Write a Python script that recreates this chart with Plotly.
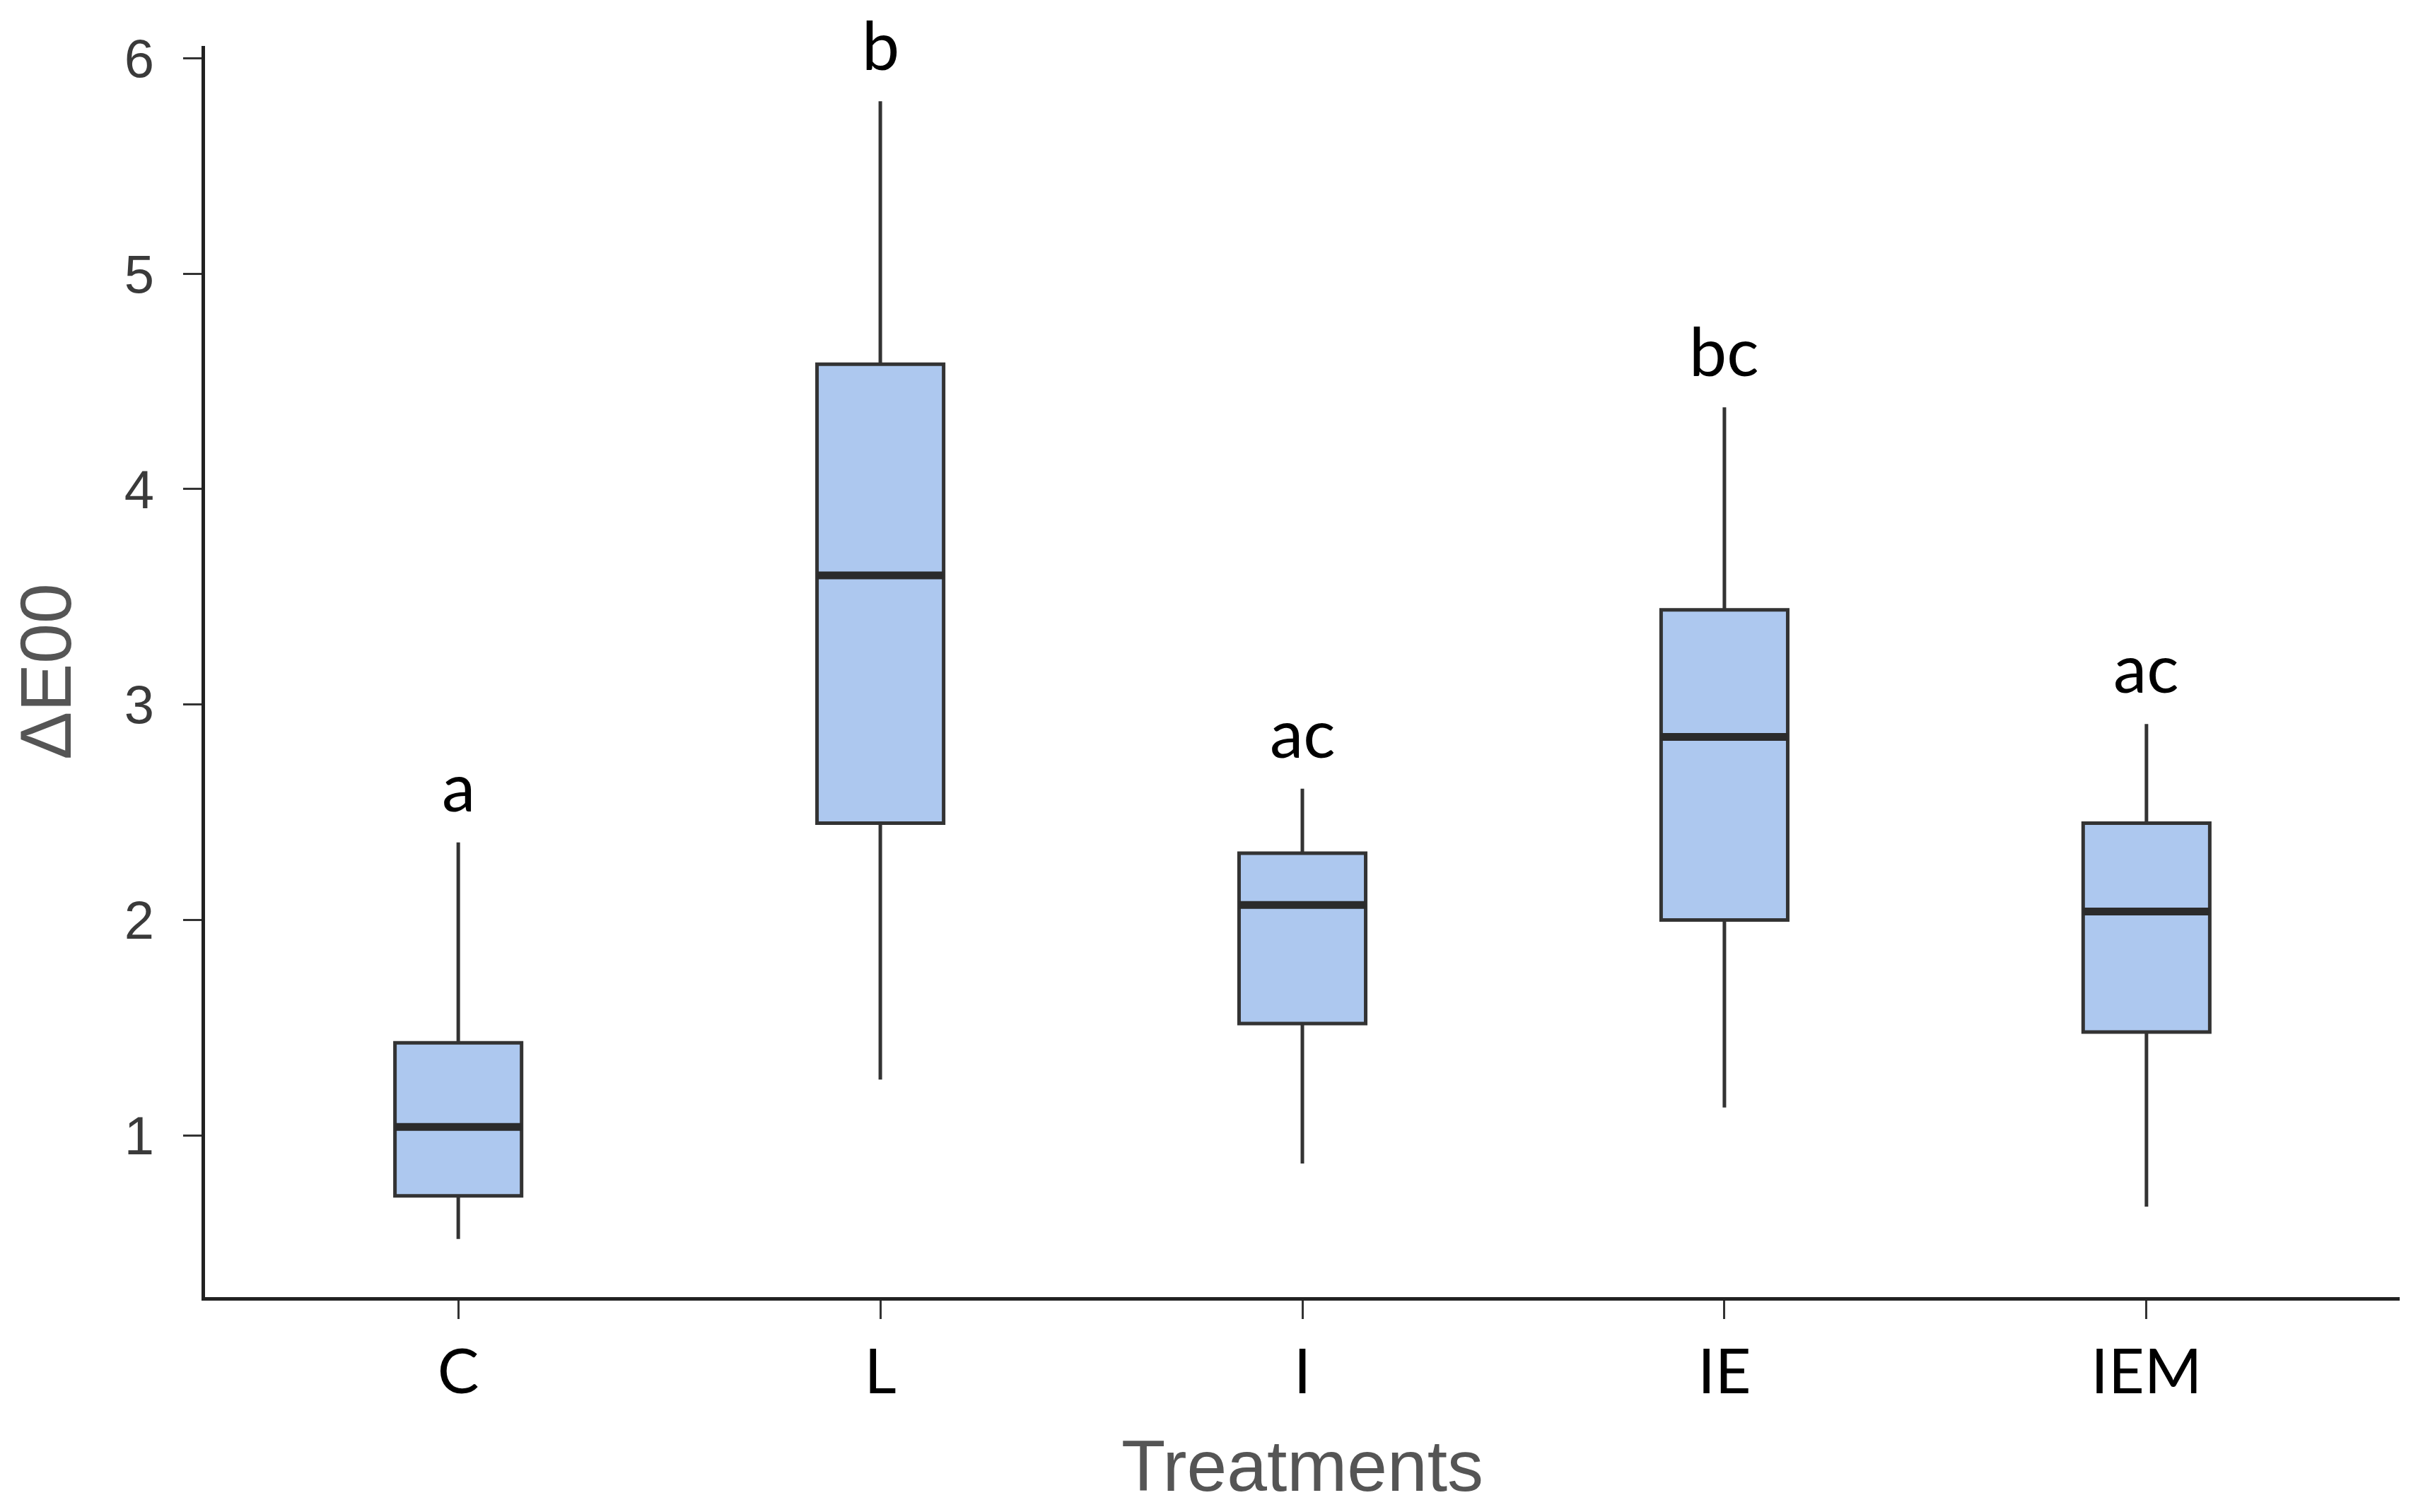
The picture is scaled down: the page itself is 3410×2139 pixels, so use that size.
import plotly.graph_objects as go

treatments = ["C", "L", "I", "IE", "IEM"]
lower_whisker = [0.52, 1.26, 0.87, 1.13, 0.67]
q1_values = [0.72, 2.45, 1.52, 2.00, 1.48]
median_values = [1.04, 3.60, 2.07, 2.85, 2.04]
q3_values = [1.43, 4.58, 2.31, 3.44, 2.45]
upper_whisker = [2.36, 5.80, 2.61, 4.38, 2.91]
group_letters = ["a", "b", "ac", "bc", "ac"]
y_ticks = [1, 2, 3, 4, 5, 6]

positions = list(range(len(treatments)))
box_width = 0.3
fill_color = "#adc8ef"
line_color = "#333333"

fig = go.Figure()
fig.add_trace(go.Box(
    x=positions,
    q1=q1_values,
    median=median_values,
    q3=q3_values,
    lowerfence=lower_whisker,
    upperfence=upper_whisker,
    width=box_width,
    whiskerwidth=0,
    fillcolor=fill_color,
    line=dict(color=line_color, width=5),
    boxpoints=False,
    hoverinfo="skip",
    showlegend=False,
))

# thicker median lines (as in ggplot)
for p, m in zip(positions, median_values):
    fig.add_trace(go.Scatter(
        x=[p - box_width / 2, p + box_width / 2],
        y=[m, m],
        mode="lines",
        line=dict(color="#2b2b2b", width=11),
        hoverinfo="skip",
        showlegend=False,
    ))

for p, hi, lab in zip(positions, upper_whisker, group_letters):
    fig.add_annotation(
        x=p, y=hi, text=lab, showarrow=False,
        yanchor="bottom", yshift=23, borderpad=0,
        height=98, valign="bottom",
        font=dict(family="Lato", size=95, color="#000000"),
    )

fig.update_layout(
    width=3410, height=2139,
    margin=dict(l=282, r=24, t=57, b=312),
    paper_bgcolor="white", plot_bgcolor="white",
    showlegend=False,
)
fig.update_xaxes(
    range=[-0.6, 4.6],
    tickmode="array", tickvals=positions, ticktext=treatments,
    showline=True, linewidth=4.5, linecolor="#222222",
    ticks="outside", ticklen=26, tickwidth=3, tickcolor="#333333",
    showgrid=False, zeroline=False,
    tickfont=dict(family="Lato", size=88, color="#000000"),
    ticklabelstandoff=0,
    title=dict(text="Treatments", standoff=50,
               font=dict(family="Liberation Sans", size=102, color="#555555")),
)
fig.update_yaxes(
    range=[0.25, 6.057],
    tickmode="array", tickvals=y_ticks,
    showline=True, linewidth=4.5, linecolor="#222222",
    ticks="outside", ticklen=26, tickwidth=3, tickcolor="#333333",
    showgrid=False, zeroline=False,
    tickfont=dict(family="Liberation Sans", size=76, color="#3a3a3a"),
    ticklabelstandoff=26,
    title=dict(text="ΔE00", standoff=54,
               font=dict(family="Liberation Sans", size=102, color="#555555")),
)

fig.write_html("out.html")
